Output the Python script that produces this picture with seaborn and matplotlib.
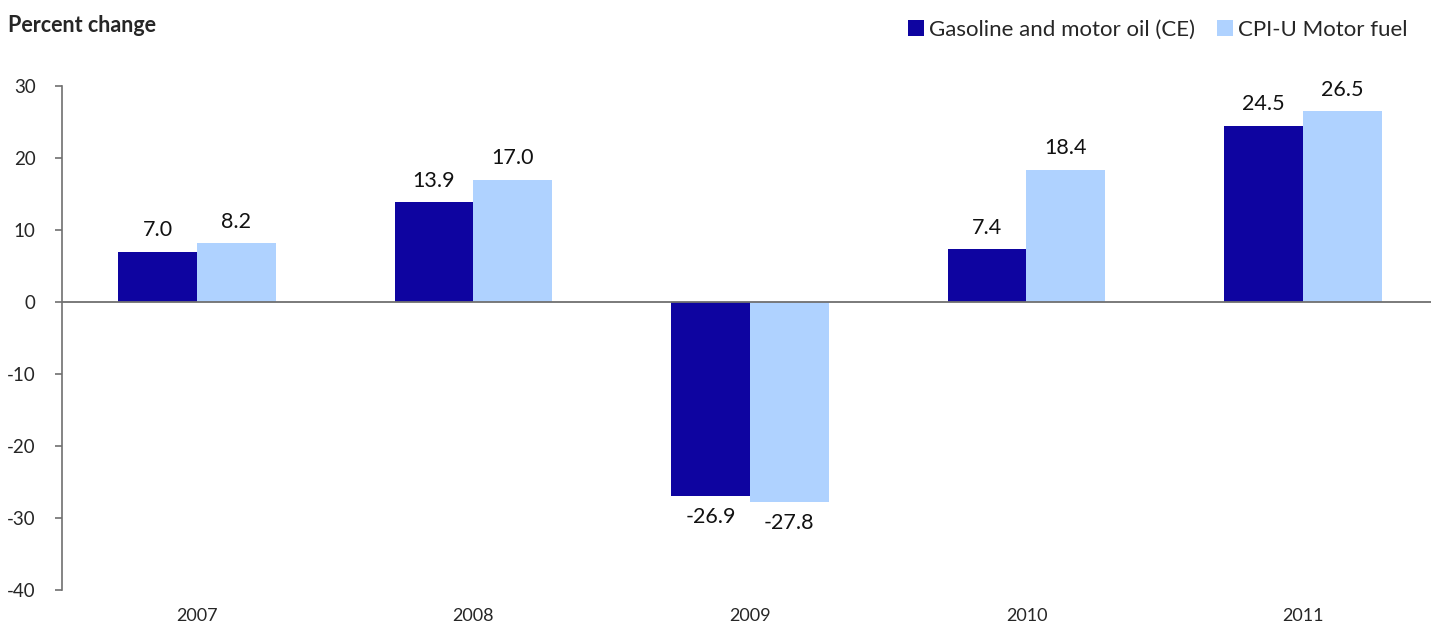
import pandas as pd
import matplotlib
matplotlib.use("Agg")
import matplotlib.pyplot as plt
import seaborn as sns

years = ["2007", "2008", "2009", "2010", "2011"]
gasoline_ce = [7.0, 13.9, -26.9, 7.4, 24.5]
cpi_motor_fuel = [8.2, 17.0, -27.8, 18.4, 26.5]
series_names = ["Gasoline and motor oil (CE)", "CPI-U Motor fuel"]
colors = ["#0E04A0", "#AFD2FF"]

df = pd.DataFrame({
    "Year": years * 2,
    "Value": gasoline_ce + cpi_motor_fuel,
    "Series": [series_names[0]] * len(years) + [series_names[1]] * len(years),
})

sns.set_style("white")
plt.rcParams["font.family"] = ["Lato", "DejaVu Sans"]
plt.rcParams["axes.unicode_minus"] = False

fig = plt.figure(figsize=(14.31, 6.24), dpi=100)
ax = fig.add_axes([62 / 1431, 34 / 624, (1431 - 62) / 1431, (590 - 86) / 624])

sns.barplot(data=df, x="Year", y="Value", hue="Series", order=years,
            hue_order=series_names, palette=colors, width=0.57,
            linewidth=0, saturation=1, ax=ax)

for c in ax.containers:
    ax.bar_label(c, fmt="%.1f", padding=8, fontsize=15.5, color="#111111")

ax.set_ylim(-40, 30)
ax.set_yticks(range(-40, 31, 10))
ax.set_xlim(-0.488, 4.463)
ax.axhline(0, color="#707070", lw=1.3, zorder=3)

for s in ["top", "right", "bottom"]:
    ax.spines[s].set_visible(False)
ax.spines["left"].set_color("#707070")
ax.spines["left"].set_linewidth(1.2)

ax.tick_params(axis="y", left=True, length=5, width=1.2, color="#707070",
               labelsize=13.5, pad=14)
ax.tick_params(axis="x", bottom=False, length=0, labelsize=13, pad=13)
ax.set_xlabel("")
ax.set_ylabel("")

fig.text(8 / 1431, 1 - 25 / 624, "Percent change", fontsize=15.5,
         fontweight="bold", va="center", ha="left")

handles, labels = ax.get_legend_handles_labels()
ax.legend(handles, labels, loc="center right", ncol=2, frameon=False,
          bbox_to_anchor=(1419 / 1431, 1 - 30 / 624),
          bbox_transform=fig.transFigure, fontsize=16,
          handlelength=0.7, handleheight=0.7, handletextpad=0.25,
          columnspacing=1.0, borderpad=0)

fig.savefig("out.png", dpi=100)
